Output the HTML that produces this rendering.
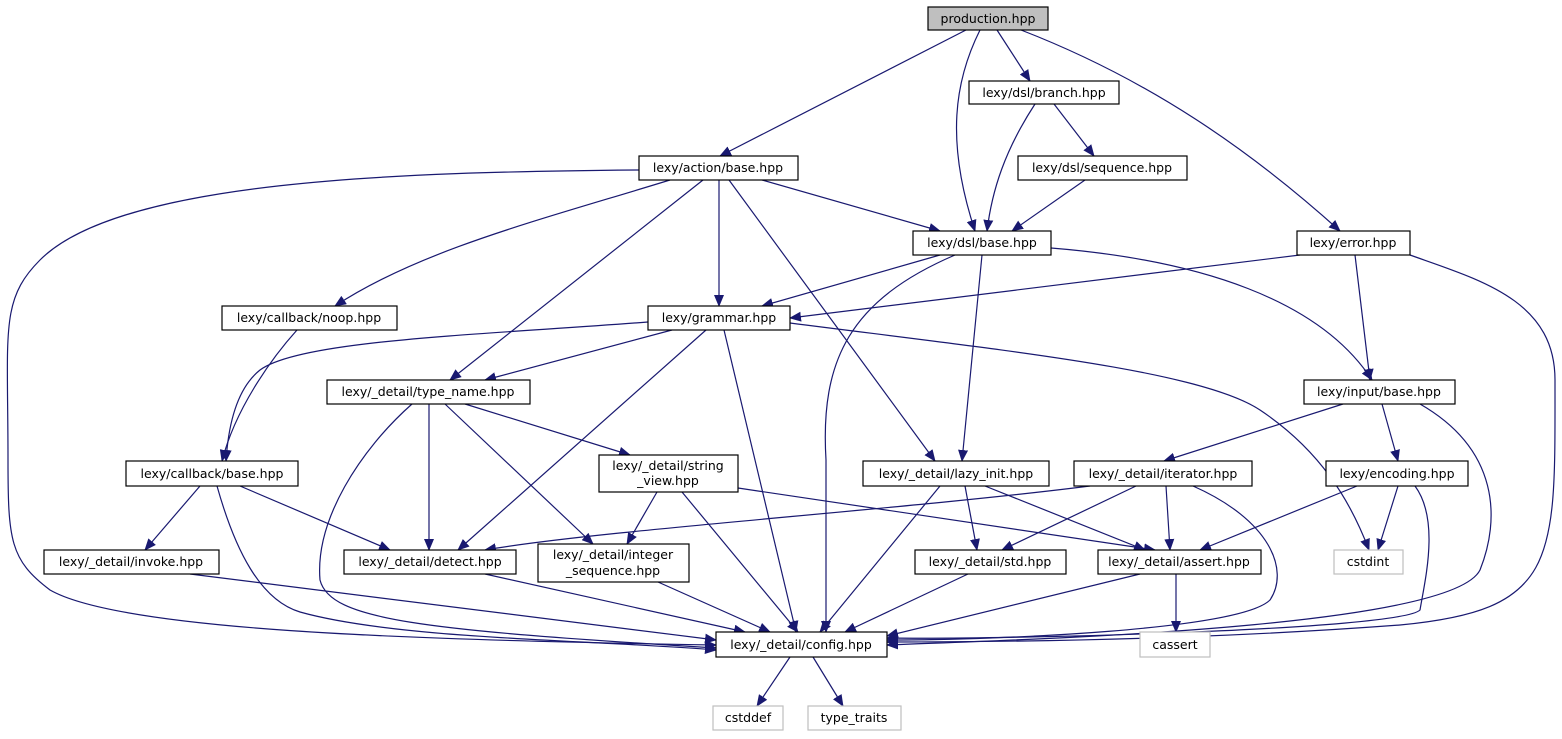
<!DOCTYPE html>
<html><head><meta charset="utf-8"><style>
html,body{margin:0;padding:0;background:#fff;}
svg{display:block}
text{font-family:"DejaVu Sans","Liberation Sans",sans-serif;font-size:12.5px;fill:#000;text-anchor:middle}
.n{fill:#fff;stroke:#000;stroke-width:1.2}
.g{fill:#fff;stroke:#bfbfbf;stroke-width:1.2}
.e{fill:none;stroke:#191970;stroke-width:1.2;marker-end:url(#a)}
</style></head><body>
<svg width="1562" height="739" viewBox="0 0 1562 739" xmlns="http://www.w3.org/2000/svg">
<defs><marker id="a" markerUnits="userSpaceOnUse" markerWidth="12" markerHeight="10" refX="11" refY="5" orient="auto"><polygon points="0,0 12,5 0,10" fill="#191970"/></marker></defs>
<g>
<path class="e" d="M966,30 L720,156"/>
<path class="e" d="M980,30 C955,80 945,140 975,231"/>
<path class="e" d="M997,30 L1030,81"/>
<path class="e" d="M1021,30 C1150,80 1250,150 1340,231"/>
<path class="e" d="M1035,104 C1005,150 992,190 987,231"/>
<path class="e" d="M1054,104 L1094,156"/>
<path class="e" d="M1085,180 L1012,231"/>
<path class="e" d="M762,180 L940,231"/>
<path class="e" d="M639,170 C400,172 120,180 40,260 C0,300 8,330 8,460 C8,540 10,560 50,590 C120,630 400,640 716,645"/>
<path class="e" d="M670,180 C540,220 420,250 335,306"/>
<path class="e" d="M703,180 L450,380"/>
<path class="e" d="M719,180 L719,306"/>
<path class="e" d="M729,180 L935,461"/>
<path class="e" d="M940,255 L762,306"/>
<path class="e" d="M955,255 C850,300 820,360 826,460 C826,520 826,580 826,632"/>
<path class="e" d="M982,255 L962,461"/>
<path class="e" d="M1051,248 C1200,260 1320,300 1372,380"/>
<path class="e" d="M1300,255 L790,318"/>
<path class="e" d="M1355,255 L1370,380"/>
<path class="e" d="M1410,255 C1480,280 1555,300 1555,380 C1555,560 1560,610 1400,625 C1200,640 1000,642 887,642"/>
<path class="e" d="M297,330 C270,360 235,410 222,461"/>
<path class="e" d="M648,322 C480,335 300,340 260,370 C235,390 228,430 226,461"/>
<path class="e" d="M672,330 L485,380"/>
<path class="e" d="M706,330 L458,550"/>
<path class="e" d="M724,330 L796,632"/>
<path class="e" d="M790,323 C1000,350 1200,370 1260,410 C1320,450 1350,500 1369,550"/>
<path class="e" d="M412,404 C360,450 315,520 320,580 C330,620 420,630 716,648"/>
<path class="e" d="M429,404 L429,550"/>
<path class="e" d="M445,404 L593,544"/>
<path class="e" d="M465,404 L630,455"/>
<path class="e" d="M1343,404 L1164,461"/>
<path class="e" d="M1382,404 L1398,461"/>
<path class="e" d="M1420,404 C1500,450 1500,520 1480,570 C1450,630 1000,640 887,645"/>
<path class="e" d="M200,486 L145,550"/>
<path class="e" d="M217,486 C235,550 260,600 300,612 C400,640 600,640 716,650"/>
<path class="e" d="M240,486 L390,550"/>
<path class="e" d="M657,492 L627,544"/>
<path class="e" d="M682,492 L798,632"/>
<path class="e" d="M738,488 L1155,550"/>
<path class="e" d="M965,486 L977,550"/>
<path class="e" d="M985,486 L1145,550"/>
<path class="e" d="M940,486 L820,632"/>
<path class="e" d="M1090,486 C900,510 600,530 485,550"/>
<path class="e" d="M1136,486 L1002,550"/>
<path class="e" d="M1166,486 L1170,550"/>
<path class="e" d="M1193,486 C1270,520 1290,570 1270,600 C1240,630 1000,640 887,640"/>
<path class="e" d="M1357,486 L1200,550"/>
<path class="e" d="M1398,486 L1378,550"/>
<path class="e" d="M1415,486 C1440,520 1425,580 1420,610 C1400,630 1000,640 887,638"/>
<path class="e" d="M190,574 L716,640"/>
<path class="e" d="M485,574 L745,632"/>
<path class="e" d="M658,582 L770,632"/>
<path class="e" d="M968,574 L845,632"/>
<path class="e" d="M1140,574 L887,636"/>
<path class="e" d="M1176,574 L1176,632"/>
<path class="e" d="M790,657 L757,706"/>
<path class="e" d="M813,657 L843,706"/>
</g>
<g>
<rect x="928" y="7" width="120" height="23" fill="#bfbfbf" stroke="#000" stroke-width="1.2"/><text x="988" y="23">production.hpp</text>
<rect class="n" x="969" y="81" width="150" height="23"/><text x="1044" y="97">lexy/dsl/branch.hpp</text>
<rect class="n" x="639" y="156" width="159" height="24"/><text x="718" y="172">lexy/action/base.hpp</text>
<rect class="n" x="1018" y="156" width="169" height="24"/><text x="1102" y="172">lexy/dsl/sequence.hpp</text>
<rect class="n" x="913" y="231" width="138" height="24"/><text x="982" y="247">lexy/dsl/base.hpp</text>
<rect class="n" x="1297" y="231" width="113" height="24"/><text x="1353" y="247">lexy/error.hpp</text>
<rect class="n" x="222" y="306" width="175" height="24"/><text x="309" y="322">lexy/callback/noop.hpp</text>
<rect class="n" x="648" y="306" width="142" height="24"/><text x="719" y="322">lexy/grammar.hpp</text>
<rect class="n" x="327" y="380" width="203" height="24"/><text x="428" y="396">lexy/_detail/type_name.hpp</text>
<rect class="n" x="1304" y="380" width="151" height="24"/><text x="1379" y="396">lexy/input/base.hpp</text>
<rect class="n" x="126" y="461" width="172" height="25"/><text x="212" y="478">lexy/callback/base.hpp</text>
<rect class="n" x="599" y="455" width="139" height="37"/><text x="668" y="470">lexy/_detail/string</text><text x="668" y="485">_view.hpp</text>
<rect class="n" x="863" y="461" width="186" height="25"/><text x="956" y="478">lexy/_detail/lazy_init.hpp</text>
<rect class="n" x="1074" y="461" width="178" height="25"/><text x="1163" y="478">lexy/_detail/iterator.hpp</text>
<rect class="n" x="1326" y="461" width="142" height="25"/><text x="1397" y="478">lexy/encoding.hpp</text>
<rect class="n" x="44" y="550" width="175" height="24"/><text x="131" y="566">lexy/_detail/invoke.hpp</text>
<rect class="n" x="344" y="550" width="172" height="24"/><text x="430" y="566">lexy/_detail/detect.hpp</text>
<rect class="n" x="538" y="544" width="151" height="38"/><text x="613" y="559">lexy/_detail/integer</text><text x="613" y="575">_sequence.hpp</text>
<rect class="n" x="915" y="550" width="151" height="24"/><text x="990" y="566">lexy/_detail/std.hpp</text>
<rect class="n" x="1098" y="550" width="163" height="24"/><text x="1179" y="566">lexy/_detail/assert.hpp</text>
<rect class="g" x="1334" y="550" width="69" height="24"/><text x="1368" y="566">cstdint</text>
<rect class="n" x="716" y="632" width="171" height="25"/><text x="801" y="649">lexy/_detail/config.hpp</text>
<rect class="g" x="1140" y="632" width="70" height="25"/><text x="1175" y="649">cassert</text>
<rect class="g" x="713" y="706" width="70" height="24"/><text x="748" y="722">cstddef</text>
<rect class="g" x="808" y="706" width="93" height="24"/><text x="854" y="722">type_traits</text>
</g>
</svg>
</body></html>
